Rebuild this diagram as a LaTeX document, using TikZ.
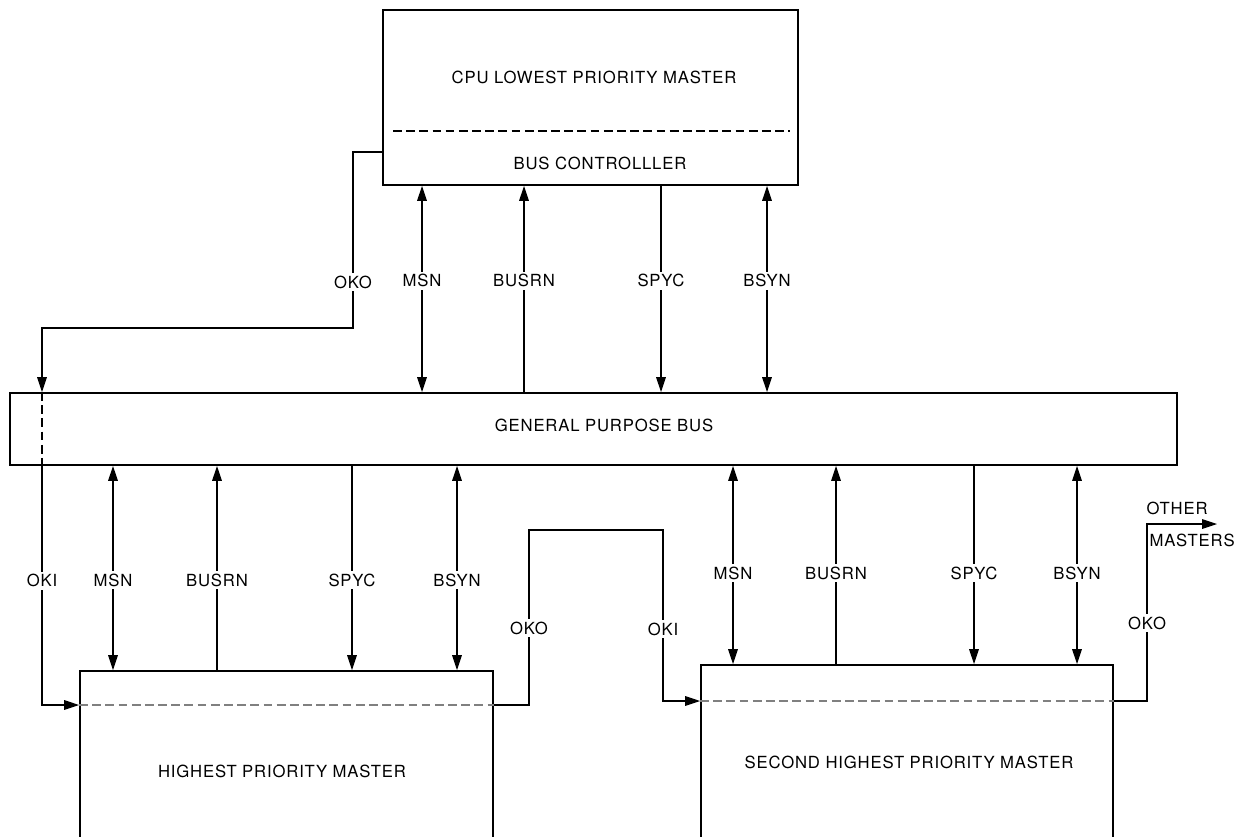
\documentclass[tikz,border=0pt]{standalone}
\usepackage{fontspec}
\setmainfont{TeX Gyre Heros}[LetterSpace=5]
\usetikzlibrary{arrows.meta}

\begin{document}
\begin{tikzpicture}[x=0.02cm, y=-0.02cm, >={Triangle[length=8.5pt,width=5.5pt]},
    semithick, font=\fontsize{9.5}{11}\selectfont,
    unit/.style={draw, line width=1.1pt, inner sep=0pt},
    divider/.style={dashed, dash pattern=on 5pt off 2.5pt, line width=0.8pt},
    sig/.style={fill=white, inner sep=1.5pt}]
    \useasboundingbox (0,0) rectangle (1247,836);
    \clip (0,0) rectangle (1247,836);

    \node[unit, minimum width=8.3cm, minimum height=3.5cm] (cpu) at (590.5,97.5) {};
    \node[unit, minimum width=23.34cm, minimum height=1.44cm] (bus) at (593.5,429) {};
    \node[unit, minimum width=8.26cm, minimum height=3.8cm] (hpm) at (286.5,766) {};
    \node[unit, minimum width=8.24cm, minimum height=3.9cm] (shm) at (907,762.5) {};

    \node (cputxt) at (594,77) {CPU LOWEST PRIORITY MASTER};
    \node (bctxt) at (600,163) {BUS CONTROLLLER};
    \node (bustxt) at (604,425) {GENERAL PURPOSE BUS};
    \node (hpmtxt) at (282,771) {HIGHEST PRIORITY MASTER};
    \node (shmtxt) at (909,762) {SECOND HIGHEST PRIORITY MASTER};

    \draw[divider] (393,131) -- (790,131);
    \draw[divider, gray] (hpm.west |- 0,705) -- (hpm.east |- 0,705);
    \draw[divider, gray] (shm.west |- 0,701) -- (shm.east |- 0,701);

    % cpu <-> bus
    \draw[<->] (422,0 |- cpu.south) -- node[sig, pos=0.46] {MSN} (422,0 |- bus.north);
    \draw[<-] (524,0 |- cpu.south) -- node[sig, pos=0.46] {BUSRN} (524,0 |- bus.north);
    \draw[->] (661,0 |- cpu.south) -- node[sig, pos=0.46] {SPYC} (661,0 |- bus.north);
    \draw[<->] (767,0 |- cpu.south) -- node[sig, pos=0.46] {BSYN} (767,0 |- bus.north);

    % bus <-> highest
    \draw[<->] (113,0 |- bus.south) -- node[sig, pos=0.56] {MSN} (113,0 |- hpm.north);
    \draw[<-] (217,0 |- bus.south) -- node[sig, pos=0.56] {BUSRN} (217,0 |- hpm.north);
    \draw[->] (352,0 |- bus.south) -- node[sig, pos=0.56] {SPYC} (352,0 |- hpm.north);
    \draw[<->] (457,0 |- bus.south) -- node[sig, pos=0.56] {BSYN} (457,0 |- hpm.north);

    % bus <-> second highest
    \draw[<->] (733,0 |- bus.south) -- node[sig, pos=0.54] {MSN} (733,0 |- shm.north);
    \draw[<-] (836,0 |- bus.south) -- node[sig, pos=0.54] {BUSRN} (836,0 |- shm.north);
    \draw[->] (974,0 |- bus.south) -- node[sig, pos=0.54] {SPYC} (974,0 |- shm.north);
    \draw[<->] (1077,0 |- bus.south) -- node[sig, pos=0.54] {BSYN} (1077,0 |- shm.north);

    % priority chain
    \draw[->] (cpu.west |- 0,152) -| node[sig, pos=0.87] {OKO} (353,328) -| (42,0 |- bus.north);
    \draw[divider, line width=0.6pt] (42,0 |- bus.north) -- (42,0 |- bus.south);
    \draw[->] (42,0 |- bus.south) |- node[sig, pos=0.24] {OKI} (hpm.west |- 0,705);
    \draw[->] (hpm.east |- 0,705) -| node[sig, pos=0.72] {OKO} (529,530)
        -| node[sig, pos=0.79] {OKI} (663,701) -- (shm.west |- 0,701);
    \coordinate (others) at (1217,524);
    \draw[->] (shm.east |- 0,701) -| node[sig, pos=0.72] {OKO} (1147,524) -- (others);
    \node[anchor=south west, inner sep=0pt] (othtxt) at (1146,515) {OTHER};
    \node[anchor=north west, inner sep=0pt] (mastxt) at (1149,533) {MASTERS};
\end{tikzpicture}
\end{document}
